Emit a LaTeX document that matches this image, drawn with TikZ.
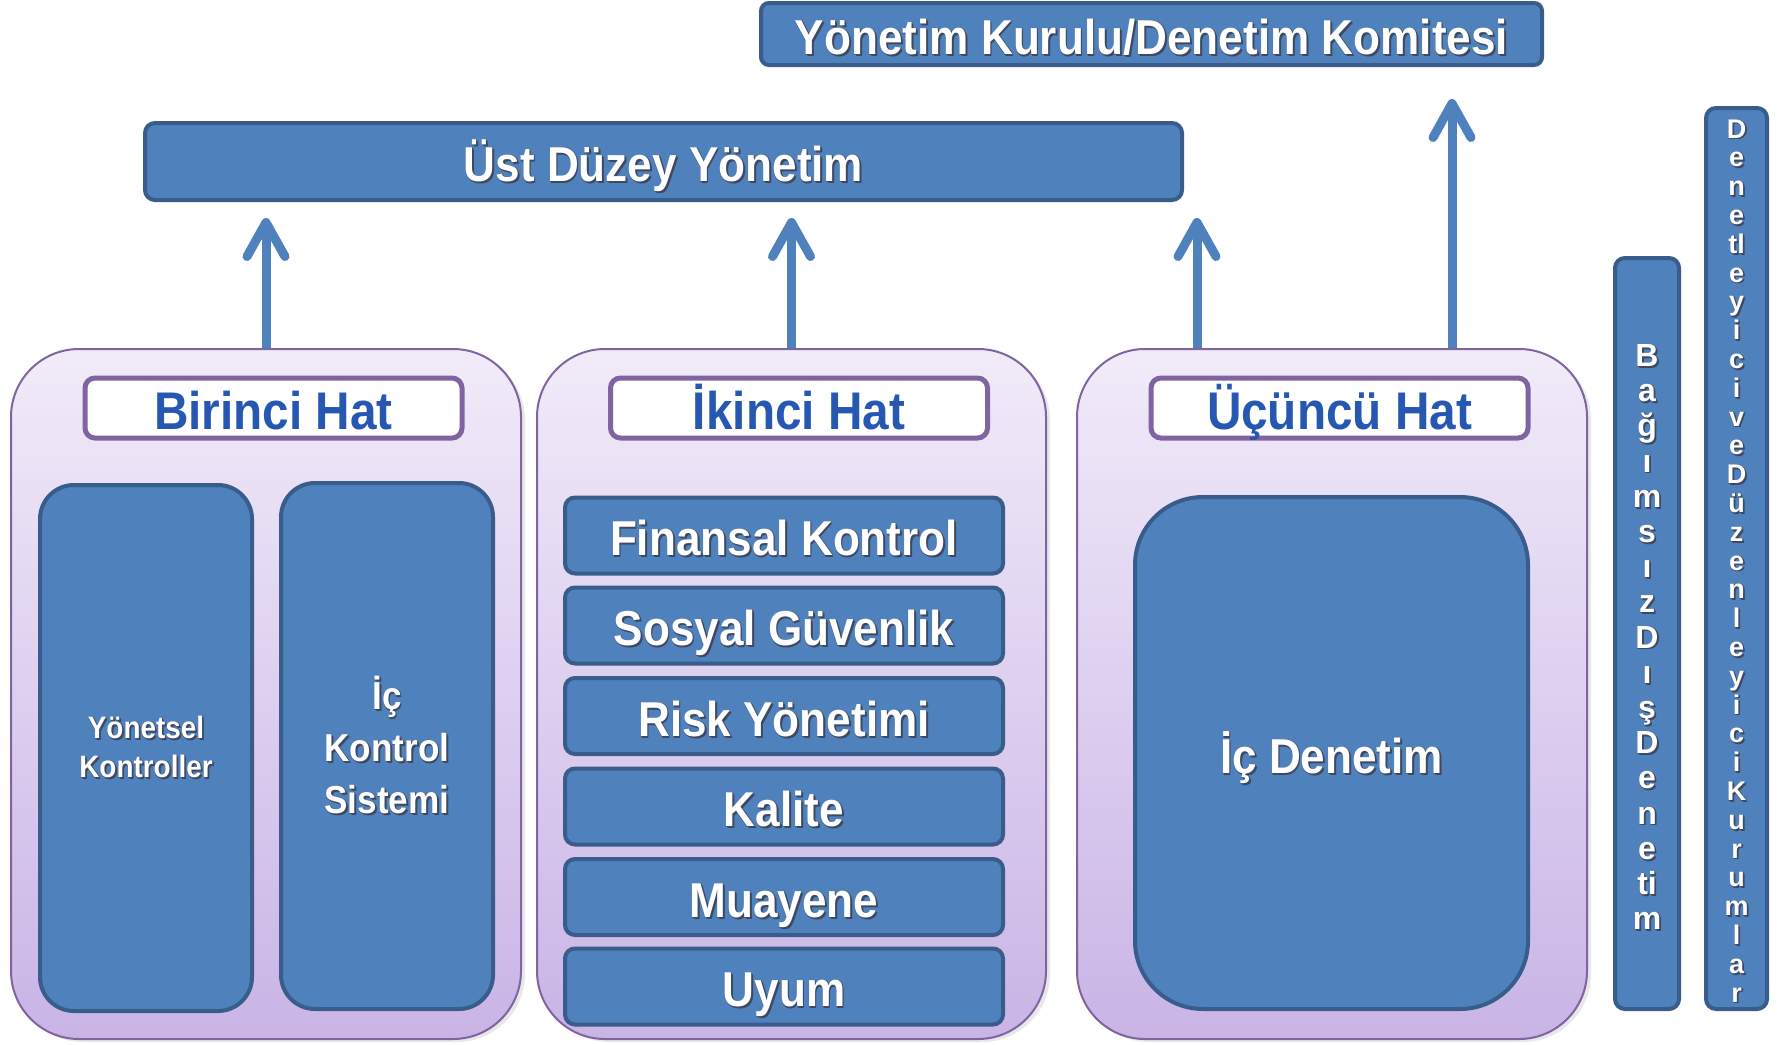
\documentclass[tikz,border=0pt]{standalone}
\usepackage{fontspec}
\setmainfont{Liberation Sans}
\newfontfamily\nb[FakeStretch=0.9]{Liberation Sans}
\usetikzlibrary{arrows.meta,shadows}

\definecolor{bfill}{RGB}{79,129,189}
\definecolor{bborder}{RGB}{56,93,138}
\definecolor{lilac}{RGB}{128,100,162}
\definecolor{paneltop}{RGB}{241,235,249}
\definecolor{panelbot}{RGB}{201,180,230}
\definecolor{headblue}{RGB}{38,88,178}
\definecolor{shade}{RGB}{62,72,96}

% white lettering with a thin dark shadow
\newcommand\sh[1]{\leavevmode
  \rlap{\hspace{0.5pt}\raisebox{0pt}{\color{shade!75!bfill}#1}}%
  \rlap{\hspace{0pt}\raisebox{-0.5pt}{\color{shade!75!bfill}#1}}%
  \rlap{\hspace{0.9pt}\raisebox{-0.9pt}{\color{shade}#1}}#1}

\tikzset{
  bluebox/.style={draw=bborder, line width=2pt, fill=bfill, rounded corners=#1,
    text=white, inner sep=0pt, align=center,
    font=\nb\bfseries\fontsize{24.5pt}{29pt}\selectfont},
  bluebox/.default=5pt,
  oneline/.style={text height=20.4pt, text depth=0pt},
  panel/.style={draw=lilac, line width=1pt, rounded corners=34pt,
    top color=paneltop, bottom color=panelbot,
    minimum width=255pt, minimum height=345pt,
    drop shadow={opacity=0.18, shadow xshift=2pt, shadow yshift=-1.5pt}},
  header/.style={draw=lilac, line width=2.5pt, fill=white, rounded corners=5pt,
    minimum width=188.5pt, minimum height=30pt, inner sep=0pt, text=headblue,
    text height=21pt, text depth=0pt,
    font=\nb\bfseries\fontsize{26.5pt}{30pt}\selectfont},
  stackbox/.style={bluebox=5pt, oneline, minimum width=219pt, minimum height=38pt},
  barbox/.style={bluebox=5pt},
  letter/.style={text=white, inner sep=0pt, text height=11.5pt, text depth=0pt,
    font=\bfseries\fontsize{16pt}{16pt}\selectfont},
  smallletter/.style={letter, text height=10pt,
    font=\bfseries\fontsize{13.5pt}{13.5pt}\selectfont},
  uparrow/.style={draw=bfill, line width=4.5pt,
    -{Straight Barb[length=17pt, width=19pt, line cap=round, line join=round]},
    shorten >=8pt}
}

\begin{document}
\begin{tikzpicture}[x=0.5pt, y=-0.5pt]
  \fill[white] (0,0) rectangle (1781,1044);
  \useasboundingbox (0,0) rectangle (1781,1044);

  % governing bodies
  \node[bluebox=4pt, oneline, minimum width=390.5pt, minimum height=31pt] (kurul)
    at (1151.5,34) {\sh{Yönetim Kurulu/Denetim Komitesi}};
  \node[bluebox=5pt, oneline, minimum width=518.5pt, minimum height=38.5pt] (ust)
    at (663.5,161.5) {\sh{Üst Düzey Yönetim}};

  % the three lines of defence
  \node[panel] (p1) at (266,694) {};
  \node[panel, minimum width=254.5pt] (p2) at (791.5,694) {};
  \node[panel] (p3) at (1332,694) {};

  \node[header] (h1) at (273.5,408) {Birinci Hat};
  \node[header] (h2) at (799,408) {İkinci Hat};
  \node[header] (h3) at (1339.5,408) {Üçüncü Hat};

  % first line
  \node[bluebox=17pt, minimum width=106pt, minimum height=263pt,
        font=\nb\bfseries\fontsize{15.5pt}{19.3pt}\selectfont] (yk)
    at (146,748) {\sh{Yönetsel}\\\sh{Kontroller}};
  \node[bluebox=17pt, minimum width=106pt, minimum height=263pt,
        font=\nb\bfseries\fontsize{19.5pt}{26pt}\selectfont] (iks)
    at (387,746) {\sh{İç}\\\sh{Kontrol}\\\sh{Sistemi}};

  % second line
  \node[stackbox] (fk) at (784,535.5) {\sh{Finansal Kontrol}};
  \node[stackbox] (sg) at (784,625.5) {\sh{Sosyal Güvenlik}};
  \node[stackbox] (ry) at (784,716)   {\sh{Risk Yönetimi}};
  \node[stackbox] (ka) at (784,806.5) {\sh{Kalite}};
  \node[stackbox] (mu) at (784,897)   {\sh{Muayene}};
  \node[stackbox] (uy) at (784,986.5) {\sh{Uyum}};

  % third line
  \node[bluebox=34pt, oneline, minimum width=196.5pt, minimum height=256pt] (id)
    at (1331.5,753) {\sh{İç Denetim}};

  % outside bodies, lettered top to bottom
  \node[barbox, minimum width=32pt, minimum height=375.5pt] (bdd) at (1647,633.5) {};
  \node[barbox, minimum width=30.5pt, minimum height=450.5pt] (ddk) at (1736.5,558.5) {};
  \foreach \c [count=\i from 0] in {B,a,ğ,ı,m,s,ı,z,D,ı,ş,D,e,n,e,ti,m}
    \node[letter] (bl\i) at (1647,{355+35.2*\i}) {\sh{\c}};
  \foreach \c [count=\i from 0] in {D,e,n,e,tl,e,y,i,c,i,v,e,D,ü,z,e,n,l,e,y,i,c,i,K,u,r,u,m,l,a,r}
    \node[smallletter] (dl\i) at (1736.5,{128+28.8*\i}) {\sh{\c}};

  % reporting arrows
  \draw[uparrow] (p1.north) -- (p1.north |- ust.south);
  \draw[uparrow] (p2.north) -- (p2.north |- ust.south);
  \coordinate (a3) at ([xshift=-67.5pt]p3.north);
  \coordinate (a4) at ([xshift=60pt]p3.north);
  \draw[uparrow] (a3) -- (a3 |- ust.south);
  \draw[uparrow, shorten >=16pt] (a4) -- (a4 |- kurul.south);
\end{tikzpicture}
\end{document}
